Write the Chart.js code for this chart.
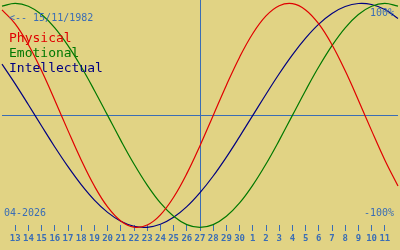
<!DOCTYPE html>
<html>
<head>
<meta charset="utf-8">
<script src="https://cdn.jsdelivr.net/npm/chart.js@4/dist/chart.umd.min.js"></script>
<style>
	body{ margin:0; background:#E1D384; }
	canvas{ display:block; }
</style>
</head>
<body>
<canvas id="myChart" width="400" height="250"></canvas>
<script>

var days = [12,13,14,15,16,17,18,19,20,21,22,23,24,25,26,27,28,29,30,1,2,3,4,5,6,7,8,9,10,11,12];

var physical = [0.942,0.817,0.631,0.398,0.136,-0.136,-0.398,-0.631,-0.817,-0.942,-0.998,-0.979,-0.888,-0.731,-0.520,-0.270,
	0.000,0.270,0.520,0.731,0.888,0.979,0.998,0.942,0.817,0.631,0.398,0.136,-0.136,-0.398,-0.631];

var emotional = [0.975,1.000,0.975,0.901,0.782,0.623,0.434,0.223,0.000,-0.223,-0.434,-0.623,-0.782,-0.901,-0.975,-1.000,
	-0.975,-0.901,-0.782,-0.623,-0.434,-0.223,0.000,0.223,0.434,0.623,0.782,0.901,0.975,1.000,0.975];

var intellectual = [0.458,0.282,0.095,-0.095,-0.282,-0.458,-0.618,-0.756,-0.866,-0.945,-0.990,-0.999,-0.972,-0.910,-0.815,-0.690,
	-0.541,-0.372,-0.189,0.000,0.189,0.372,0.541,0.690,0.815,0.910,0.972,0.999,0.990,0.945,0.866];

var today = 15;
var birth = "<-- 15/11/1982";
var month = "04-2026";
var topLabel = "100%";
var bottomLabel = "-100%";

var blue = "#3A6DB5";
var none = "rgba(0,0,0,0)";

var texts = {
	id: "texts",
	afterDatasetsDraw: (chart)=>{
		var ctx = chart.ctx;
		ctx.save();
		ctx.textBaseline = "alphabetic";
		ctx.fillStyle = blue;
		ctx.font = "10px 'DejaVu Sans Mono'";
		ctx.textAlign = "left";
		ctx.fillText( birth, 9, 20.5 );
		ctx.fillText( month, 4, 216 );
		ctx.textAlign = "right";
		ctx.fillText( topLabel, 394, 16 );
		ctx.fillText( bottomLabel, 394, 216 );
		ctx.textAlign = "left";
		ctx.font = "13px 'DejaVu Sans Mono'";
		chart.data.datasets.forEach( (ds,i)=>{
			ctx.fillStyle = ds.borderColor;
			ctx.fillText( ds.label, 9, 42 + i*15 );
		});
		ctx.restore();
	}
};

window.onload = ()=>{

	new Chart("myChart", {
		type: "line",
		data: {
			labels: days,
			datasets: [
			{ label: "Physical", borderColor: "#E00000", data: physical },
			{ label: "Emotional", borderColor: "#007800", data: emotional },
			{ label: "Intellectual", borderColor: "#000080", data: intellectual },
		]},
		options: {
			responsive: false,
			animation: false,
			layout: { padding: 0 },
			elements: {
				line: { borderWidth: 1.2, tension: 0.4, fill: false },
				point: { radius: 0 }
			},
			datasets: { line: { clip: false } },
			plugins: { legend: {display: false}, tooltip: {enabled: false} },
			scales: {
				x: {
					offset: false,
					border: { display: false },
					grid: {
						offset: false,
						color: (c)=> c.index==today ? blue : none,
						tickColor: (c)=> (c.index==0 || c.index==days.length-1) ? none : blue,
						tickLength: 6,
						tickWidth: 1,
						lineWidth: 1
					},
					ticks: {
						autoSkip: false,
						maxRotation: 0,
						padding: 2,
						color: blue,
						font: { family: "'Liberation Sans Narrow', 'DejaVu Sans Mono'", size: 9, weight: "bold" },
						callback: (v,i)=> (i==0 || i==days.length-1) ? "" : days[i]
					},
					afterFit: (s)=>{ s.height = 25; }
				},
				y: {
					min: -0.9786,
					max: 1.0304,
					border: { display: false },
					grid: { color: blue, drawTicks: false },
					ticks: { display: false },
					afterBuildTicks: (s)=>{ s.ticks = [{ value: 0 }]; },
					afterFit: (s)=>{ s.width = 0; }
				}
			}
		},
		plugins: [ texts ]
	});

}
</script>
</body>
</html>
